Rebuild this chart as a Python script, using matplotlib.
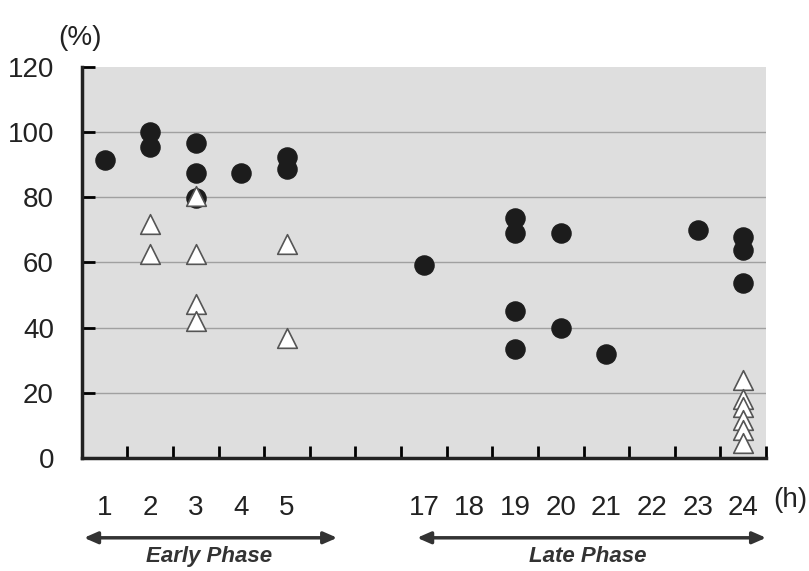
import matplotlib
matplotlib.use('Agg')
import matplotlib.pyplot as plt
import numpy as np

plt.rcParams['font.family'] = ['Liberation Sans', 'DejaVu Sans']

# hours shown on the x axis and the slot each one occupies
hour_labels = [1, 2, 3, 4, 5, 17, 18, 19, 20, 21, 22, 23, 24]
hour_slots = [0, 1, 2, 3, 4, 7, 8, 9, 10, 11, 12, 13, 14]

# filled circles
circle_hours = [1, 2, 2, 3, 3, 3, 4, 5, 5,
                17, 19, 19, 19, 19, 20, 20, 21, 23, 24, 24, 24]
circle_vals = [91.5, 100, 95.5, 96.5, 87.3, 79.8, 87.5, 92.2, 88.5,
               59.2, 73.7, 68.9, 45.1, 33.4, 68.9, 39.8, 31.8, 69.9, 67.9, 63.8, 53.8]

# open triangles
tri_hours = [2, 2, 3, 3, 3, 3, 5, 5, 24, 24, 24, 24, 24, 24]
tri_vals = [71.9, 62.5, 80.5, 62.5, 47.2, 42.0, 65.5, 36.9,
            23.9, 18.0, 15.5, 11.5, 8.5, 4.6]

slot_of = dict(zip(hour_labels, hour_slots))

fig = plt.figure(figsize=(8.09, 5.71), dpi=100)
ax = fig.add_axes([0.101, 0.198, 0.846, 0.685])
ax.set_facecolor('#dedede')

ax.set_xlim(-0.5, 14.5)
ax.set_ylim(0, 120)

ax.set_yticks(np.arange(0, 121, 20))
ax.set_yticklabels([str(v) for v in range(0, 121, 20)], fontsize=20,
                   color='#222222')
ax.set_xticks(np.arange(0.5, 14.6, 1))
ax.set_xticklabels([])
ax.tick_params(axis='y', direction='in', length=9, width=2, pad=20)
ax.tick_params(axis='x', direction='in', length=9, width=2)

for v in range(20, 101, 20):
    ax.axhline(v, color='#a0a0a0', lw=1, zorder=1)

for s in ['top', 'right']:
    ax.spines[s].set_visible(False)
for s in ['left', 'bottom']:
    ax.spines[s].set_linewidth(2.5)
    ax.spines[s].set_color('#222222')

ax.scatter([slot_of[h] for h in circle_hours], circle_vals, s=190,
           color='#1c1c1c', edgecolor='#1c1c1c', zorder=3, clip_on=False)
ax.scatter([slot_of[h] for h in tri_hours], tri_vals, s=200, marker='^',
           facecolor='white', edgecolor='#555555', linewidths=1.2, zorder=4,
           clip_on=False)

# hour labels under the axis
for h, s in zip(hour_labels, hour_slots):
    ax.text(s, -15.5, str(h), ha='center', va='center', fontsize=20,
            color='#222222')

# phase arrows
arrow_style = dict(arrowstyle='<|-|>,head_length=0.8,head_width=0.35',
                   lw=2.5, color='#333333', shrinkA=0, shrinkB=0)
ax.annotate('', xy=(-0.45, -24.5), xytext=(5.1, -24.5), annotation_clip=False,
            arrowprops=arrow_style)
ax.annotate('', xy=(6.85, -24.5), xytext=(14.5, -24.5), annotation_clip=False,
            arrowprops=arrow_style)
ax.text(2.3, -30.3, 'Early Phase', ha='center', va='center', fontsize=16,
        fontweight='bold', fontstyle='italic', color='#333333')
ax.text(10.6, -30.3, 'Late Phase', ha='center', va='center', fontsize=16,
        fontweight='bold', fontstyle='italic', color='#333333')

fig.text(80 / 809, 1 - 38 / 571, '(%)', ha='center', va='center', fontsize=20,
         color='#222222')
fig.text(790 / 809, 1 - 500 / 571, '(h)', ha='center', va='center', fontsize=20,
         color='#222222')

fig.savefig('out.png', dpi=100, facecolor='white')
